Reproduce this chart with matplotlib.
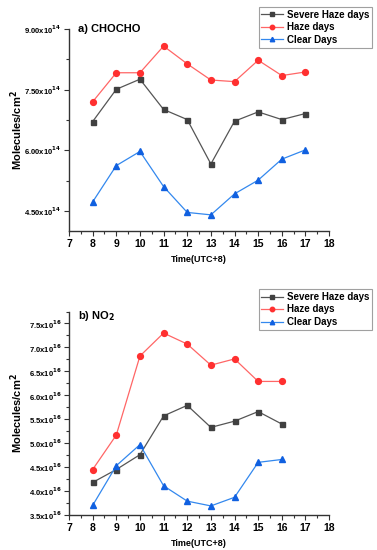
import matplotlib
matplotlib.use("Agg")
import matplotlib.pyplot as plt
from matplotlib.ticker import FixedLocator, MultipleLocator

plt.rcParams['font.family'] = ['Liberation Sans', 'DejaVu Sans']
plt.rcParams['font.weight'] = 'bold'
plt.rcParams['mathtext.default'] = 'bf'

hours_a = [8, 9, 10, 11, 12, 13, 14, 15, 16, 17]
severe_a = [6.71, 7.51, 7.76, 7.01, 6.76, 5.66, 6.72, 6.95, 6.76, 6.91]
haze_a = [7.20, 7.92, 7.92, 8.58, 8.14, 7.74, 7.70, 8.23, 7.85, 7.94]
clear_a = [4.72, 5.62, 5.97, 5.10, 4.46, 4.40, 4.92, 5.26, 5.78, 6.01]

hours_b = [8, 9, 10, 11, 12, 13, 14, 15, 16]
severe_b = [4.18, 4.45, 4.76, 5.57, 5.79, 5.33, 5.46, 5.66, 5.40]
haze_b = [4.45, 5.17, 6.82, 7.30, 7.07, 6.63, 6.76, 6.29, 6.29]
clear_b = [3.70, 4.53, 4.97, 4.11, 3.79, 3.69, 3.87, 4.60, 4.66]

series_names = ['Severe Haze days', 'Haze days', 'Clear Days']
yticks_a = [4.5, 6.0, 7.5, 9.0]
ytick_labels_a = [r'4.50x10$^{\mathsf{14}}$', r'6.00x10$^{\mathsf{14}}$', r'7.50x10$^{\mathsf{14}}$', r'9.00x10$^{\mathsf{14}}$']
yticks_b = [3.5, 4.0, 4.5, 5.0, 5.5, 6.0, 6.5, 7.0, 7.5]
ytick_labels_b = [r'%.1fx10$^{\mathsf{16}}$' % v for v in yticks_b]
xticks = list(range(7, 19))

styles = [
    dict(color='#555555', mfc='#404040', mec='#404040', marker='s', ms=3.6),
    dict(color='#ff6666', mfc='#ff3030', mec='#ff3030', marker='o', ms=4.2),
    dict(color='#3388ee', mfc='#1060e0', mec='#1060e0', marker='^', ms=4.5),
]

fig = plt.figure(figsize=(3.77, 5.5), dpi=100)
ax1 = fig.add_axes([0.183, 0.58, 0.69, 0.367])
ax2 = fig.add_axes([0.183, 0.0636, 0.69, 0.370])

def style_axes(ax, yticks, ylabels, ylim):
    for s in ['top', 'right']:
        ax.spines[s].set_visible(False)
    for s in ['left', 'bottom']:
        ax.spines[s].set_linewidth(1.0)
        ax.spines[s].set_color('#333333')
    ax.set_xlim(7, 18)
    ax.set_ylim(*ylim)
    ax.set_xticks(xticks)
    ax.set_xticklabels([str(t) for t in xticks], fontsize=7.5, fontweight='bold')
    ax.xaxis.set_minor_locator(MultipleLocator(0.5))
    ax.set_yticks(yticks)
    ax.set_yticklabels(ylabels, fontsize=5.5, fontweight='bold')
    step = yticks[1] - yticks[0]
    ax.yaxis.set_minor_locator(FixedLocator([t + step / 2 for t in yticks]))
    ax.tick_params(axis='both', which='major', direction='out', length=3.5, width=0.8, color='#333333', pad=2)
    ax.tick_params(axis='both', which='minor', direction='out', length=2, width=0.8, color='#333333')
    ax.set_ylabel('Molecules/cm$^2$', fontsize=8, fontweight='bold')
    ax.set_xlabel('Time(UTC+8)', fontsize=6.5, fontweight='bold')
    ax.xaxis.set_label_coords(0.5, -0.12)
    ax.yaxis.set_label_coords(-0.17, 0.5)

for vals, st, nm in zip([severe_a, haze_a, clear_a], styles, series_names):
    ax1.plot(hours_a, vals, lw=0.9, label=nm, **st, clip_on=False)
style_axes(ax1, yticks_a, ytick_labels_a, (4.0, 9.0))
ax1.text(0.035, 1.0, 'a) CHOCHO', transform=ax1.transAxes, fontsize=8, fontweight='bold', va='center', ha='left')

for vals, st, nm in zip([severe_b, haze_b, clear_b], styles, series_names):
    ax2.plot(hours_b, vals, lw=0.9, label=nm, **st, clip_on=False)
style_axes(ax2, yticks_b, ytick_labels_b, (3.5, 7.75))
ax2.text(0.035, 0.98, 'b) NO$_2$', transform=ax2.transAxes, fontsize=8, fontweight='bold', va='center', ha='left')

for ax, anchor in [(ax1, (1.165, 1.11)), (ax2, (1.165, 1.11))]:
    leg = ax.legend(loc='upper right', bbox_to_anchor=anchor, fontsize=7, frameon=True,
                    fancybox=False, edgecolor='#888888', handlelength=2.2, handletextpad=0.4,
                    borderpad=0.3, labelspacing=0.25, borderaxespad=0.0)
    leg.get_frame().set_linewidth(0.8)
    for t in leg.get_texts():
        t.set_fontweight('bold')
    for h in leg.legend_handles:
        h.set_markersize(3.2)

fig.savefig('out.png', dpi=100)
